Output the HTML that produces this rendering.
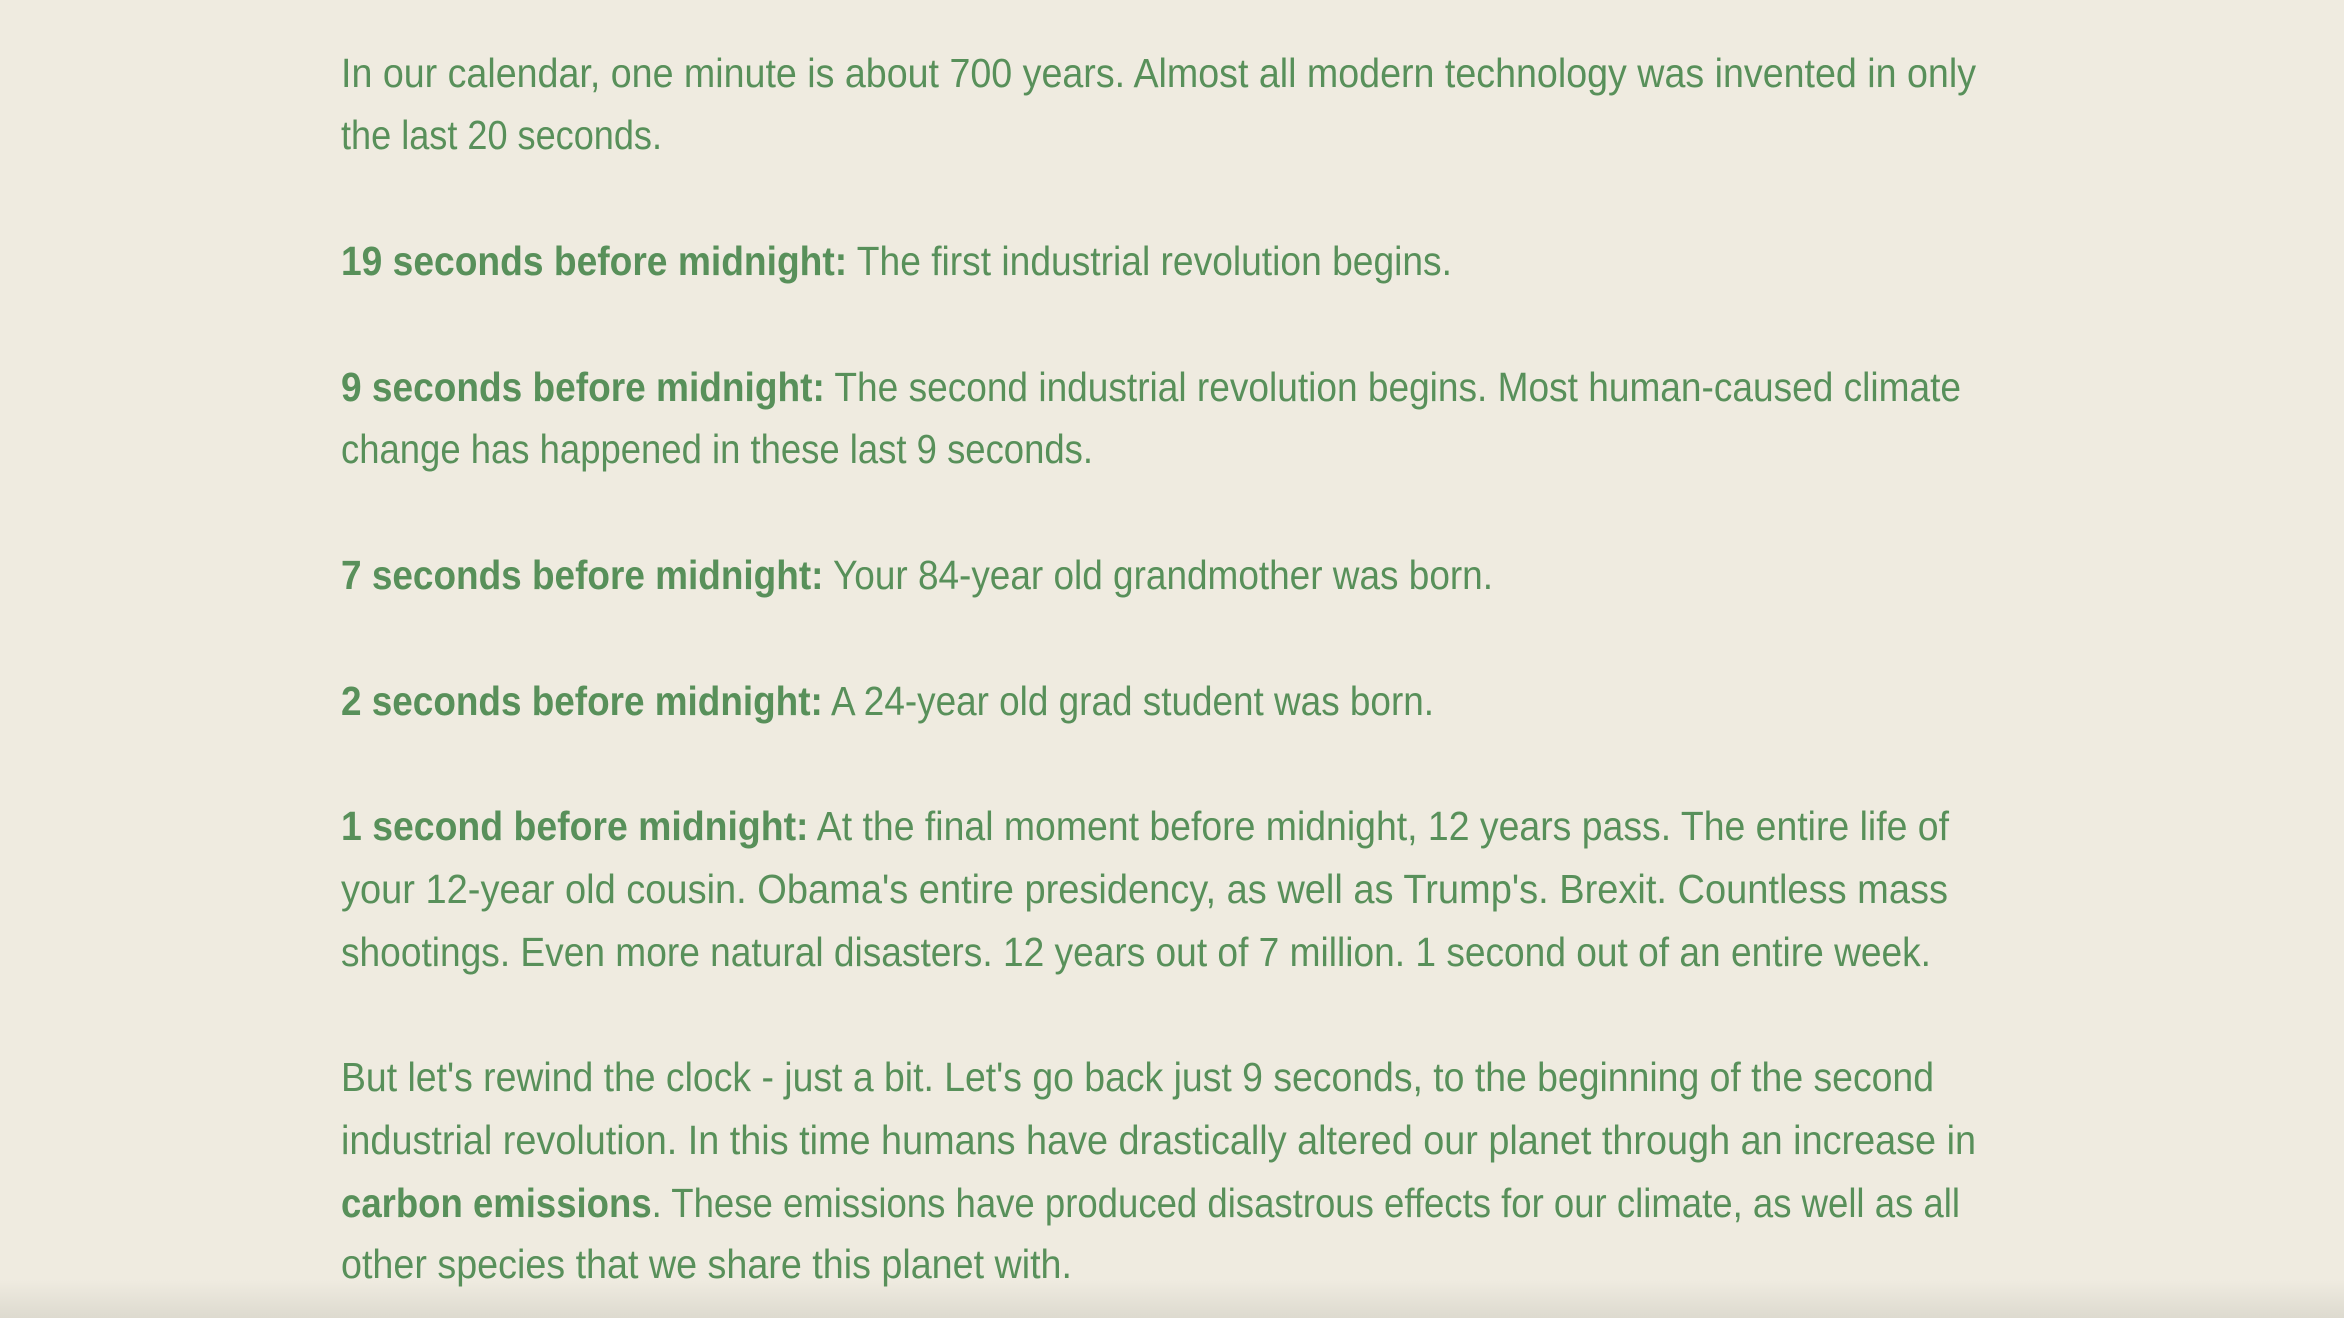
<!DOCTYPE html>
<html><head><meta charset="utf-8"><style>
html,body{margin:0;padding:0;width:2344px;height:1318px;overflow:hidden;background:#efebe0}
svg{display:block}
text{font-family:"Liberation Sans",sans-serif;font-size:41px;fill:#58905a}
.b{font-weight:bold}
</style></head><body>
<svg width="2344" height="1318">
<defs><linearGradient id="g" x1="0" y1="0" x2="0" y2="1"><stop offset="0" stop-color="#efebe0"/><stop offset="1" stop-color="#dddacf"/></linearGradient></defs>
<rect x="0" y="1280" width="2344" height="38" fill="url(#g)"/>
<g>
<text x="341" y="87" textLength="1635" lengthAdjust="spacingAndGlyphs">In our calendar, one minute is about 700 years. Almost all modern technology was invented in only</text>
<text x="341" y="149" textLength="321" lengthAdjust="spacingAndGlyphs">the last 20 seconds.</text>
</g>
<g>
<text x="341" y="275" textLength="1111" lengthAdjust="spacingAndGlyphs"><tspan class="b">19 seconds before midnight:</tspan> The first industrial revolution begins.</text>
</g>
<g>
<text x="341" y="401" textLength="1620" lengthAdjust="spacingAndGlyphs"><tspan class="b">9 seconds before midnight:</tspan> The second industrial revolution begins. Most human-caused climate</text>
<text x="341" y="463" textLength="752" lengthAdjust="spacingAndGlyphs">change has happened in these last 9 seconds.</text>
</g>
<g>
<text x="341" y="589" textLength="1152" lengthAdjust="spacingAndGlyphs"><tspan class="b">7 seconds before midnight:</tspan> Your 84-year old grandmother was born.</text>
</g>
<g>
<text x="341" y="715" textLength="1093" lengthAdjust="spacingAndGlyphs"><tspan class="b">2 seconds before midnight:</tspan> A 24-year old grad student was born.</text>
</g>
<g>
<text x="341" y="840" textLength="1608" lengthAdjust="spacingAndGlyphs"><tspan class="b">1 second before midnight:</tspan> At the final moment before midnight, 12 years pass. The entire life of</text>
<text x="341" y="903" textLength="1607" lengthAdjust="spacingAndGlyphs">your 12-year old cousin. Obama's entire presidency, as well as Trump's. Brexit. Countless mass</text>
<text x="341" y="966" textLength="1590" lengthAdjust="spacingAndGlyphs">shootings. Even more natural disasters. 12 years out of 7 million. 1 second out of an entire week.</text>
</g>
<g>
<text x="341" y="1091" textLength="1593" lengthAdjust="spacingAndGlyphs">But let's rewind the clock - just a bit. Let's go back just 9 seconds, to the beginning of the second</text>
<text x="341" y="1154" textLength="1635" lengthAdjust="spacingAndGlyphs">industrial revolution. In this time humans have drastically altered our planet through an increase in</text>
<text x="341" y="1217" textLength="1619" lengthAdjust="spacingAndGlyphs"><tspan class="b">carbon emissions</tspan>. These emissions have produced disastrous effects for our climate, as well as all</text>
<text x="341" y="1278" textLength="731" lengthAdjust="spacingAndGlyphs">other species that we share this planet with.</text>
</g>
</svg>
</body></html>
